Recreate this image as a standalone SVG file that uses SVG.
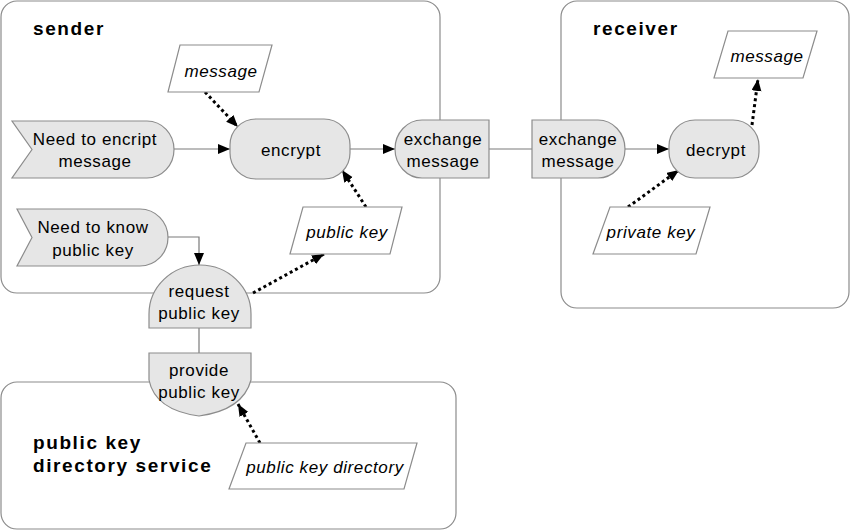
<svg xmlns="http://www.w3.org/2000/svg" width="850" height="531" viewBox="0 0 850 531">
<defs>
<style>
.box{fill:#fff;stroke:#8c8c8c;stroke-width:1.2}
.node{fill:#e6e6e6;stroke:#8c8c8c;stroke-width:1.2}
.data{fill:#fff;stroke:#8c8c8c;stroke-width:1.2}
.t{font-family:"Liberation Sans",Arial,sans-serif;font-size:17px;letter-spacing:0.6px;fill:#000;text-anchor:middle}
.i{font-style:italic}
.title{font-family:"Liberation Sans",Arial,sans-serif;font-size:19px;font-weight:bold;letter-spacing:1.6px;fill:#000}
.flow{fill:none;stroke:#7a7a7a;stroke-width:1.2}
.dot{fill:none;stroke:#000;stroke-width:3;stroke-dasharray:3 3}
</style>
<marker id="ah" markerUnits="userSpaceOnUse" markerWidth="13" markerHeight="11" refX="12" refY="5" orient="auto">
<path d="M0,0 L12,5 L0,10 Z" fill="#000"/>
</marker>
</defs>

<g id="sender-box">
<rect class="box" x="1" y="1" width="439" height="292" rx="16"/>
<text class="title" x="33" y="35">sender</text>
</g>
<g id="receiver-box">
<rect class="box" x="561" y="1" width="288" height="307" rx="16"/>
<text class="title" x="593" y="35">receiver</text>
</g>
<g id="directory-box">
<rect class="box" x="1" y="382" width="455" height="147" rx="16"/>
<text class="title" x="33" y="449">public key</text>
<text class="title" x="33" y="472">directory service</text>
</g>

<g id="connectors">
<path class="flow" d="M174,149 H230" marker-end="url(#ah)"/>
<path class="flow" d="M350,149 H395" marker-end="url(#ah)"/>
<path class="flow" d="M489,149 H532"/>
<path class="flow" d="M625,149 H669" marker-end="url(#ah)"/>
<path class="flow" d="M168,237 H199 V265" marker-end="url(#ah)"/>
<path class="flow" d="M199,328 V353"/>
<path class="dot" d="M205,92 L238,127" marker-end="url(#ah)"/>
<path class="dot" d="M366,207 L342,170" marker-end="url(#ah)"/>
<path class="dot" d="M253,293 L324,254" marker-end="url(#ah)"/>
<path class="dot" d="M260,443 L238,404" marker-end="url(#ah)"/>
<path class="dot" d="M628,207 L679,170" marker-end="url(#ah)"/>
<path class="dot" d="M752,125 L758,79" marker-end="url(#ah)"/>
</g>

<g id="need-encrypt">
<path class="node" d="M12,121 H147 A27,28.5 0 0 1 147,178 H12 L32,149.5 Z"/>
<text class="t" x="95" y="145">Need to encript</text>
<text class="t" x="95" y="167">message</text>
</g>
<g id="need-know">
<path class="node" d="M17,209 H140 A28,28.5 0 0 1 140,266 H17 L32,237.5 Z"/>
<text class="t" x="93" y="233">Need to know</text>
<text class="t" x="93" y="256">public key</text>
</g>
<g id="msg-sender">
<path class="data" d="M180,45 H272 L259,92 H168 Z"/>
<text class="t i" x="221" y="77">message</text>
</g>
<g id="encrypt">
<rect class="node" x="230" y="119" width="120" height="60" rx="26"/>
<text class="t" x="291" y="156">encrypt</text>
</g>
<g id="pubkey-sender">
<path class="data" d="M303,207 H402 L390,254 H290 Z"/>
<text class="t i" x="347" y="238">public key</text>
</g>
<g id="exchange-send">
<path class="node" d="M489,120 V178 H422 A27,29 0 0 1 422,120 Z"/>
<text class="t" x="443" y="145">exchange</text>
<text class="t" x="443" y="167">message</text>
</g>
<g id="exchange-recv">
<path class="node" d="M532,120 H598 A27,29 0 0 1 598,178 H532 Z"/>
<text class="t" x="578" y="145">exchange</text>
<text class="t" x="578" y="167">message</text>
</g>
<g id="decrypt">
<rect class="node" x="669" y="120" width="90" height="58" rx="26"/>
<text class="t" x="716" y="156">decrypt</text>
</g>
<g id="msg-receiver">
<path class="data" d="M728,31 H817 L803,78 H714 Z"/>
<text class="t i" x="767" y="62">message</text>
</g>
<g id="private-key">
<path class="data" d="M610,207 H710 L696,254 H593 Z"/>
<text class="t i" x="651" y="238">private key</text>
</g>
<g id="request-key">
<path class="node" d="M149,328 V314 A51,49 0 0 1 251,314 V328 Z"/>
<text class="t" x="199" y="297">request</text>
<text class="t" x="199" y="319">public key</text>
</g>
<g id="provide-key">
<path class="node" d="M149,353 H251 V380 Q243,410 199,416 Q155,410 149,380 Z"/>
<text class="t" x="199" y="376">provide</text>
<text class="t" x="199" y="398">public key</text>
</g>
<g id="pk-directory">
<path class="data" d="M246,443 H417 L404,489 H229 Z"/>
<text class="t i" x="325" y="473">public key directory</text>
</g>
</svg>
